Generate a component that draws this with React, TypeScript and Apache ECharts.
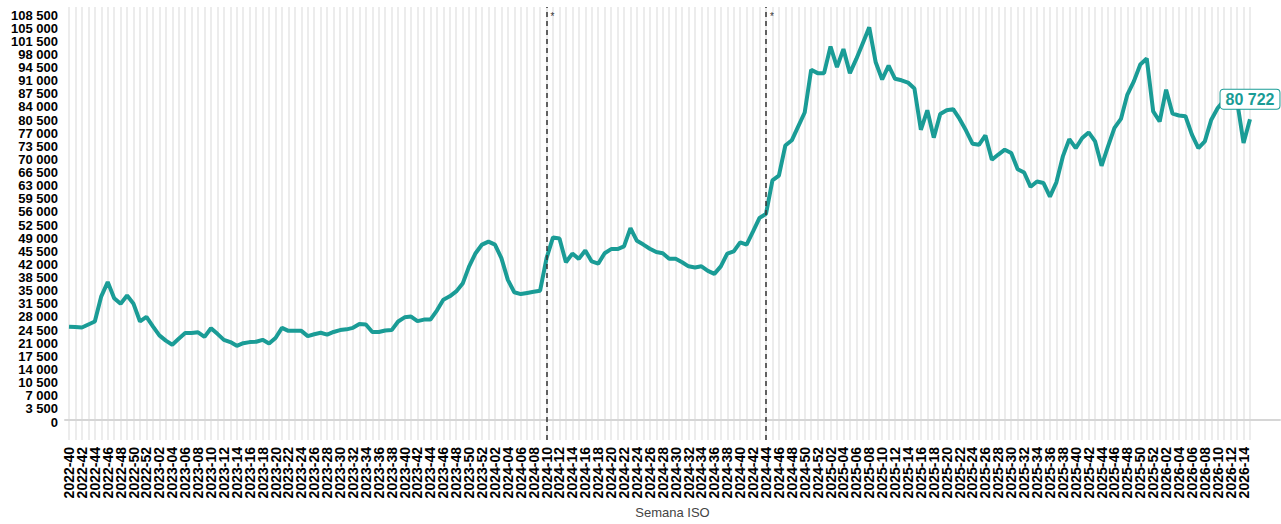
import { useEffect, useRef } from 'react';
import * as echarts from 'echarts';

// weekly values, ISO weeks 2022-40 .. 2026-15
const values2022 = [25400, 25300, 25200, 26000, 26800, 33500, 37300, 33000, 31500, 33700, 31500, 26800, 28000];
const values2023 = [
  25500, 23100, 21700, 20600, 22200, 23700, 23700, 23900, 22700, 25000,
  23500, 21900, 21300, 20300, 21000, 21300, 21400, 21900, 20900, 22400,
  25100, 24300, 24300, 24300, 22900, 23400, 23800, 23300, 24000, 24500,
  24700, 25100, 26100, 26000, 24000, 24000, 24400, 24500, 26800, 27900,
  28100, 26900, 27300, 27300, 29700, 32600, 33500, 34800, 36900, 41500,
  45000, 47300,
];
const values2024 = [
  48100, 47300, 43700, 37900, 34600, 34100, 34400, 34700, 35000, 43700,
  49200, 48900, 42600, 44900, 43500, 45700, 42800, 42200, 45000, 46100,
  46100, 46800, 51700, 48300, 47300, 46200, 45300, 45000, 43500, 43500,
  42600, 41500, 41200, 41500, 40300, 39500, 41500, 44900, 45500, 47900,
  47300, 50800, 54400, 55500, 64400, 65700, 73700, 75100, 78800, 82500,
  93900, 93000,
];
const values2025 = [
  93000, 100100, 94600, 99400, 93000, 96800, 101000, 105200, 95900, 91300,
  95000, 91500, 91100, 90500, 88900, 77900, 83100, 75800, 82100, 83100,
  83400, 80800, 77700, 74200, 73900, 76400, 69900, 71300, 72600, 71700,
  67400, 66500, 62700, 64100, 63700, 60100, 63900, 70800, 75400, 73000,
  75700, 77200, 74800, 68300, 73500, 78400, 80800, 87300, 90800, 95300,
  96900, 82800,
];
const values2026 = [80100, 88600, 82200, 81700, 81500, 76600, 73000, 74800, 80600, 83700, 85800, 86800, 85500, 74400, 80722];

// first and last week shown per year
const yearWeeks: [number, number, number][] = [
  [2022, 40, 52],
  [2023, 1, 52],
  [2024, 1, 52],
  [2025, 1, 52],
  [2026, 1, 15],
];

const markedWeeks = ['2024-10', '2024-44'];

const weeks: string[] = [];
yearWeeks.forEach(([y, from, to]) => {
  for (let w = from; w <= to; w++) weeks.push(`${y}-${String(w).padStart(2, '0')}`);
});

const values = [...values2022, ...values2023, ...values2024, ...values2025, ...values2026];

const TEAL = '#1a9c96';
const FONT = '"Liberation Sans", Arial, sans-serif';

const fmt = (v: number) => String(v).replace(/\B(?=(\d{3})+(?!\d))/g, ' ');

const App = () => {
  const chartRef = useRef<HTMLDivElement>(null);

  useEffect(() => {
    if (!chartRef.current) return;
    const chart = echarts.init(chartRef.current, null, { renderer: 'svg' });

    const last = values.length - 1;

    const option = {
      animation: false,
      grid: [
        // background: week grid lines, labels, dashed markers
        { left: 69, right: 31, top: 7, height: 433 },
        // the line itself
        { left: 69, right: 31, top: 15, height: 407 },
        // zero line running to the right edge
        { left: 65, right: 1, top: 15, height: 407 },
      ],
      xAxis: [
        {
          gridIndex: 0,
          type: 'category',
          data: weeks,
          boundaryGap: false,
          axisLine: { show: false },
          axisTick: { show: false },
          axisLabel: {
            rotate: 90,
            interval: 0,
            margin: 7,
            formatter: (v: string, i: number) => (i % 2 === 0 ? v : ''),
            color: '#000',
            fontFamily: FONT,
            fontWeight: 'bold',
            fontSize: 14,
          },
          splitLine: { show: true, interval: 0, lineStyle: { color: '#ececec', width: 2 } },
        },
        {
          gridIndex: 1,
          type: 'category',
          data: weeks,
          boundaryGap: false,
          show: false,
        },
        {
          gridIndex: 2,
          type: 'value',
          min: 0,
          max: 1,
          axisLine: { show: true, onZero: false, lineStyle: { color: '#d6d6d6', width: 2 } },
          axisTick: { show: false },
          axisLabel: { show: false },
          splitLine: { show: false },
          name: 'Semana ISO',
          nameLocation: 'middle',
          nameGap: 86,
          nameTextStyle: { color: '#444', fontFamily: FONT, fontSize: 13 },
        },
      ],
      yAxis: [
        { gridIndex: 0, type: 'value', min: 0, max: 1, show: false },
        {
          gridIndex: 1,
          type: 'value',
          min: 0,
          max: 108500,
          interval: 3500,
          axisLine: { show: false },
          axisTick: { show: false },
          splitLine: { show: false },
          axisLabel: {
            margin: 11,
            color: '#000',
            fontFamily: FONT,
            fontWeight: 'bold',
            fontSize: 13,
            formatter: (v: number) => fmt(v),
          },
        },
        { gridIndex: 2, type: 'value', min: 0, max: 1, show: false },
      ],
      series: [
        {
          type: 'line',
          xAxisIndex: 0,
          yAxisIndex: 0,
          data: weeks.map(() => null),
          showSymbol: false,
          silent: true,
          markLine: {
            silent: true,
            symbol: 'none',
            lineStyle: { type: [5, 4], color: '#333', width: 1.5 },
            label: {
              show: true,
              position: 'end',
              formatter: '*',
              color: '#333',
              fontFamily: FONT,
              fontSize: 10,
              offset: [6, 19],
            },
            data: markedWeeks.map((w) => ({ xAxis: w })),
          },
        },
        {
          type: 'line',
          xAxisIndex: 1,
          yAxisIndex: 1,
          data: values,
          showSymbol: false,
          lineStyle: { color: TEAL, width: 4 },
          itemStyle: { color: TEAL },
          markPoint: {
            silent: true,
            symbol: 'circle',
            symbolSize: 1,
            itemStyle: { color: 'rgba(0,0,0,0)' },
            label: {
              show: true,
              position: 'top',
              distance: 10,
              formatter: (p: any) => fmt(p.value),
              color: TEAL,
              fontFamily: FONT,
              fontWeight: 'bold',
              fontSize: 16,
              backgroundColor: '#fff',
              borderColor: TEAL,
              borderWidth: 1,
              borderRadius: 3,
              padding: [2, 5, 1, 5],
            },
            data: [{ coord: [weeks[last], values[last]], value: values[last] }],
          },
        },
      ],
    };

    chart.setOption(option);

    const handleResize = () => chart.resize();
    window.addEventListener('resize', handleResize);
    return () => {
      window.removeEventListener('resize', handleResize);
      chart.dispose();
    };
  }, []);

  return (
    <div
      ref={chartRef}
      style={{ position: 'fixed', left: 0, top: 0, width: '1281px', height: '524px', background: '#fff' }}
    />
  );
};

export default App;
